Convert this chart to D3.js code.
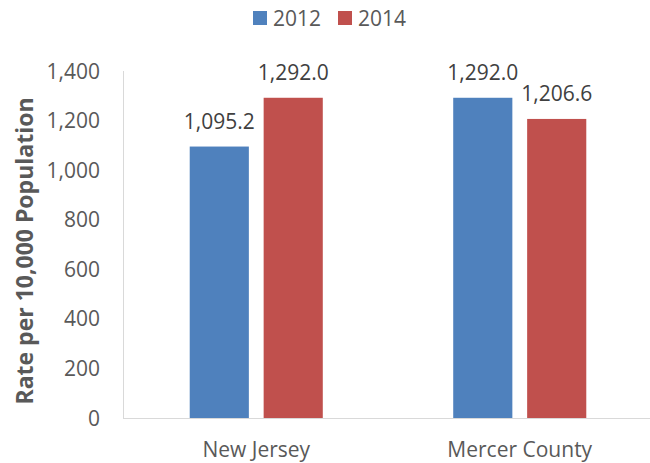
<!DOCTYPE html>
<html>
<head>
<meta charset="utf-8">
<script src="https://cdn.jsdelivr.net/npm/d3@7"></script>
<style>
  body { margin: 0; background: #fff; }
  text { font-family: "Open Sans", sans-serif; }
</style>
</head>
<body>
<div id="chart"></div>
<script>
//Chart data.
let categories = ["New Jersey", "Mercer County"]
let years = ["2012", "2014"]
let values2012 = [1095.2, 1292.0]
let values2014 = [1292.0, 1206.6]
let yTicks = [0, 200, 400, 600, 800, 1000, 1200, 1400]

let colors = { "2012": "#4F81BD", "2014": "#C0504D" }

let w = 650
let h = 463
let plotLeft = 124.5
let plotRight = 651.5
let plotTop = 71
let plotBottom = 418

const svg = d3.select("#chart")
              .append("svg")
              .attr("width", w)
              .attr("height", h)

//Scales.
let y = d3.scaleLinear().domain([0, 1400]).range([plotBottom, plotTop])
let x = d3.scaleBand().domain(categories).range([plotLeft, plotRight])
          .paddingInner(0.495).paddingOuter(0.2475)
let xs = d3.scaleBand().domain(years).range([0, x.bandwidth()]).paddingInner(0.2)

let rows = categories.map((c, i) => ({ cat: c, vals: [
  { year: "2012", v: values2012[i] },
  { year: "2014", v: values2014[i] }
]}))

//Y axis line and tick labels.
svg.append("line")
   .attr("x1", 123.5).attr("x2", 123.5)
   .attr("y1", plotTop).attr("y2", plotBottom)
   .attr("stroke", "#D9D9D9").attr("stroke-width", 1)

svg.append("g").selectAll("text")
   .data(yTicks)
   .enter()
   .append("text")
   .attr("x", 100)
   .attr("y", d => y(d))
   .attr("dy", "0.36em")
   .attr("text-anchor", "end")
   .attr("font-size", 21)
   .attr("fill", "#595959")
   .text(d => d3.format(",")(d))

//Bars.
let groups = svg.selectAll(".grp")
   .data(rows)
   .enter()
   .append("g")
   .attr("transform", d => "translate(" + x(d.cat) + ",0)")

groups.selectAll("rect")
   .data(d => d.vals)
   .enter()
   .append("rect")
   .attr("x", d => xs(d.year))
   .attr("y", d => y(d.v))
   .attr("width", xs.bandwidth())
   .attr("height", d => y(0) - y(d.v))
   .attr("fill", d => colors[d.year])

groups.selectAll(".lbl")
   .data(d => d.vals)
   .enter()
   .append("text")
   .attr("x", d => xs(d.year) + xs.bandwidth() / 2)
   .attr("y", d => y(d.v) - 18)
   .attr("text-anchor", "middle")
   .attr("font-size", 21)
   .attr("fill", "#404040")
   .text(d => d3.format(",.1f")(d.v))

//X axis line and category labels.
svg.append("line")
   .attr("x1", 123).attr("x2", w)
   .attr("y1", plotBottom + 0.5).attr("y2", plotBottom + 0.5)
   .attr("stroke", "#D9D9D9").attr("stroke-width", 1)

svg.append("g").selectAll("text")
   .data(categories)
   .enter()
   .append("text")
   .attr("x", d => x(d) + x.bandwidth() / 2)
   .attr("y", plotBottom + 31)
   .attr("dy", "0.36em")
   .attr("text-anchor", "middle")
   .attr("font-size", 21)
   .attr("fill", "#595959")
   .text(d => d)

//Y axis title.
svg.append("text")
   .attr("transform", "translate(25,251) rotate(-90)")
   .attr("dy", "0.36em")
   .attr("text-anchor", "middle")
   .attr("font-size", 23)
   .attr("font-weight", "bold")
   .attr("fill", "#595959")
   .text("Rate per 10,000 Population")

//Legend.
let legendX = [253, 338]
let legend = svg.append("g").selectAll("g")
   .data(years)
   .enter()
   .append("g")
   .attr("transform", (d, i) => "translate(" + legendX[i] + ",0)")

legend.append("rect")
   .attr("x", 0).attr("y", 11)
   .attr("width", 14).attr("height", 14)
   .attr("fill", d => colors[d])

legend.append("text")
   .attr("x", 20).attr("y", 18.5)
   .attr("dy", "0.36em")
   .attr("font-size", 21)
   .attr("fill", "#595959")
   .text(d => d)
</script>
</body>
</html>
